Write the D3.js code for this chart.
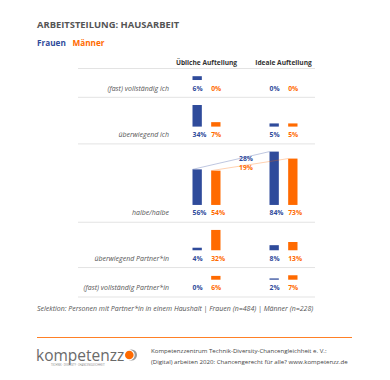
<!DOCTYPE html>
<html>
<head>
<meta charset="utf-8">
<script src="https://cdn.jsdelivr.net/npm/d3@7"></script>
<style>
  body { margin: 0; background: #fff; }
  svg { display: block; font-family: "Open Sans", sans-serif; }
</style>
</head>
<body>
<svg id="chart" width="390" height="380"></svg>
<script>
// categories and series
var rows = ['(fast) vollständig ich', 'überwiegend ich', 'halbe/halbe', 'überwiegend Partner*in', '(fast) vollständig Partner*in'];
var groups = ['Übliche Aufteilung', 'Ideale Aufteilung'];
var series = ['Frauen', 'Männer'];
var ueblichFrauen = [6, 34, 56, 4, 0];
var ueblichMaenner = [0, 7, 54, 32, 6];
var idealFrauen = [0, 5, 84, 8, 2];
var idealMaenner = [0, 5, 73, 13, 7];

var blue = '#2f4b9b', orange = '#ff6a00', gray = '#555';

var svg = d3.select('#chart');

// title + legend
svg.append('text').attr('x', 37).attr('y', 27.5)
    .attr('font-size', 9.4).attr('font-weight', 700).attr('fill', gray)
    .text('ARBEITSTEILUNG: HAUSARBEIT');
svg.append('text').attr('x', 37).attr('y', 45.5)
    .attr('font-size', 8.2).attr('font-weight', 700).attr('fill', blue).text(series[0]);
svg.append('text').attr('x', 72.5).attr('y', 45.5)
    .attr('font-size', 8.2).attr('font-weight', 700).attr('fill', orange).text(series[1]);

// scales
var y = d3.scaleLinear().domain([0, 100]).range([0, 63.5]);
var gx = d3.scaleBand().domain(groups).range([168, 322]);
var sx = d3.scaleBand().domain(series).range([-14, 14]).paddingInner(0.5);

var data = rows.map(function(r, i) {
    return {
        row: r,
        values: [
            {group: groups[0], s: series[0], v: ueblichFrauen[i]},
            {group: groups[0], s: series[1], v: ueblichMaenner[i]},
            {group: groups[1], s: series[0], v: idealFrauen[i]},
            {group: groups[1], s: series[1], v: idealMaenner[i]}
        ]
    };
});

// row bands sized by the largest value in each row
var cursor = 68.5;
data.forEach(function(d) {
    var mx = d3.max(d.values, function(v) { return v.v; });
    d.y0 = cursor;
    d.h = y(mx) + 25;
    d.base = d.y0 + d.h - 17.3;
    cursor += d.h;
});

// column headers
svg.selectAll('.hdr').data(groups).enter().append('text')
    .attr('class', 'hdr')
    .attr('x', function(d) { return gx(d) + gx.bandwidth() / 2; })
    .attr('y', 65)
    .attr('text-anchor', 'middle')
    .attr('font-size', 6.6).attr('font-weight', 700).attr('fill', '#333')
    .text(function(d) { return d; });

// separators
var seps = [data[0].y0].concat(data.map(function(d) { return d.y0 + d.h; }));
svg.selectAll('.sep').data(seps).enter().append('line')
    .attr('x1', 78).attr('x2', 315)
    .attr('y1', function(d) { return d; }).attr('y2', function(d) { return d; })
    .attr('stroke', '#e3e3e3').attr('stroke-width', 1);

var colour = function(s) { return s === series[0] ? blue : orange; };
var barX = function(v) { return gx(v.group) + gx.bandwidth() / 2 + sx(v.s); };

var rowG = svg.selectAll('.row').data(data).enter().append('g').attr('class', 'row');

rowG.append('text')
    .attr('x', 169).attr('y', function(d) { return d.base + 10.5; })
    .attr('text-anchor', 'end')
    .attr('font-size', 7).attr('font-style', 'italic').attr('fill', gray)
    .text(function(d) { return d.row; });

rowG.each(function(d) {
    var g = d3.select(this);
    g.selectAll('rect').data(d.values).enter().append('rect')
        .attr('x', barX)
        .attr('y', function(v) { return d.base - y(v.v); })
        .attr('width', sx.bandwidth())
        .attr('height', function(v) { return y(v.v); })
        .attr('fill', function(v) { return colour(v.s); });
    g.selectAll('.val').data(d.values).enter().append('text')
        .attr('class', 'val')
        .attr('x', barX)
        .attr('y', d.base + 10.5)
        .attr('font-size', 6.8).attr('font-weight', 700)
        .attr('fill', function(v) { return colour(v.s); })
        .text(function(v) { return v.v + '%'; });
});

// slope lines for halbe/halbe
var half = data[2];
series.forEach(function(s, i) {
    var a = half.values.filter(function(v) { return v.s === s; });
    var x1 = barX(a[0]), y1 = half.base - y(a[0].v);
    var x2 = barX(a[1]), y2 = half.base - y(a[1].v);
    svg.append('line')
        .attr('x1', x1).attr('y1', y1).attr('x2', x2).attr('y2', y2)
        .attr('stroke', colour(s)).attr('stroke-opacity', 0.35).attr('stroke-width', 0.9);
    svg.append('text')
        .attr('x', 246).attr('y', i === 0 ? 160.5 : 170)
        .attr('text-anchor', 'middle')
        .attr('font-size', 6.8).attr('font-weight', 700).attr('fill', colour(s))
        .text((a[1].v - a[0].v) + '%');
});

// footnote
svg.append('text').attr('x', 37).attr('y', 311)
    .attr('font-size', 7).attr('font-style', 'italic').attr('fill', gray)
    .text('Selektion: Personen mit Partner*in in einem Haushalt | Frauen (n=484) | Männer (n=228)');

svg.append('line').attr('x1', 37).attr('x2', 352).attr('y1', 337.5).attr('y2', 337.5)
    .attr('stroke', orange).attr('stroke-width', 1.2).attr('stroke-opacity', 0.85);

// logo
svg.append('text').attr('x', 36).attr('y', 360.5)
    .attr('font-size', 15.5).attr('fill', '#6a6a6a').text('kompetenzz');
svg.append('text').attr('x', 51).attr('y', 365.5)
    .attr('font-size', 2.6).attr('fill', '#888')
    .text('TECHNIK · DIVERSITY · CHANCENGLEICHHEIT');
svg.append('circle').attr('cx', 131.5).attr('cy', 355).attr('r', 5.5).attr('fill', '#9a9a9a');
svg.append('circle').attr('cx', 129.5).attr('cy', 355).attr('r', 5.2).attr('fill', '#fff');
svg.append('circle').attr('cx', 129.3).attr('cy', 355).attr('r', 4.3).attr('fill', orange);

svg.append('text').attr('x', 151).attr('y', 353)
    .attr('font-size', 6.1).attr('fill', '#444')
    .text('Kompetenzzentrum Technik-Diversity-Chancengleichheit e. V.:');
svg.append('text').attr('x', 151).attr('y', 363.5)
    .attr('font-size', 6.1).attr('fill', '#444')
    .text('(Digital) arbeiten 2020: Chancengerecht für alle? www.kompetenzz.de');
</script>
</body>
</html>
